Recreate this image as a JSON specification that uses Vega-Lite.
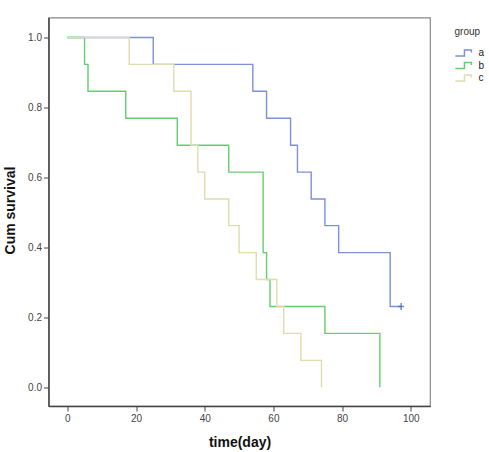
{
  "$schema": "https://vega.github.io/schema/vega-lite/v6.json",
  "autosize": "none",
  "width": 381.5,
  "height": 388.5,
  "padding": {"left": 48.5, "top": 17.5, "right": 59, "bottom": 46},
  "background": "white",
  "config": {
    "font": "Liberation Sans",
    "view": {"stroke": "#888888", "strokeWidth": 1.2},
    "axis": {
      "grid": false,
      "domainColor": "#444444",
      "domainWidth": 1.5,
      "tickColor": "#444444",
      "tickSize": 5,
      "tickWidth": 1,
      "labelFont": "Liberation Sans",
      "labelFontSize": 10,
      "labelColor": "#444444",
      "labelPadding": 2,
      "titleFont": "Liberation Sans",
      "titleFontSize": 14,
      "titleFontWeight": "bold",
      "titleColor": "#111111"
    }
  },
  "datasets": {
    "km": [
      {"group": "a", "time": 0, "surv": 1},
      {"group": "a", "time": 25, "surv": 0.923},
      {"group": "a", "time": 54, "surv": 0.846},
      {"group": "a", "time": 58, "surv": 0.769},
      {"group": "a", "time": 65, "surv": 0.692},
      {"group": "a", "time": 67, "surv": 0.615},
      {"group": "a", "time": 71, "surv": 0.538},
      {"group": "a", "time": 75, "surv": 0.462},
      {"group": "a", "time": 79, "surv": 0.385},
      {"group": "a", "time": 94, "surv": 0.231},
      {"group": "a", "time": 97.2, "surv": 0.231},
      {"group": "b", "time": 0, "surv": 1},
      {"group": "b", "time": 5, "surv": 0.923},
      {"group": "b", "time": 6, "surv": 0.846},
      {"group": "b", "time": 17, "surv": 0.769},
      {"group": "b", "time": 32, "surv": 0.692},
      {"group": "b", "time": 47, "surv": 0.615},
      {"group": "b", "time": 57, "surv": 0.385},
      {"group": "b", "time": 58, "surv": 0.308},
      {"group": "b", "time": 59, "surv": 0.231},
      {"group": "b", "time": 75, "surv": 0.154},
      {"group": "b", "time": 91, "surv": 0},
      {"group": "c", "time": 0, "surv": 1},
      {"group": "c", "time": 18, "surv": 0.923},
      {"group": "c", "time": 31, "surv": 0.846},
      {"group": "c", "time": 36, "surv": 0.692},
      {"group": "c", "time": 38, "surv": 0.615},
      {"group": "c", "time": 40, "surv": 0.538},
      {"group": "c", "time": 47, "surv": 0.462},
      {"group": "c", "time": 50, "surv": 0.385},
      {"group": "c", "time": 55, "surv": 0.308},
      {"group": "c", "time": 61, "surv": 0.231},
      {"group": "c", "time": 63, "surv": 0.154},
      {"group": "c", "time": 68, "surv": 0.077},
      {"group": "c", "time": 74, "surv": 0}
    ],
    "censored": [
      {"group": "a", "time": 97.2, "surv": 0.231}
    ]
  },
  "layer": [
    {
      "data": {"name": "km"},
      "mark": {"type": "line", "interpolate": "step-after", "strokeWidth": 1.4},
      "encoding": {
        "x": {
          "field": "time",
          "type": "quantitative",
          "scale": {"domain": [-5.5, 105.6], "nice": false, "zero": false},
          "axis": {
            "values": [0, 20, 40, 60, 80, 100],
            "title": "time(day)",
            "titleX": 191,
            "titleY": 36,
            "titleBaseline": "middle"
          }
        },
        "y": {
          "field": "surv",
          "type": "quantitative",
          "scale": {"domain": [-0.0535, 1.057], "nice": false, "zero": false},
          "axis": {
            "values": [0, 0.2, 0.4, 0.6, 0.8, 1.0],
            "format": ".1f",
            "title": "Cum survival",
            "titleX": -38,
            "titleY": 192.5,
            "titleBaseline": "middle",
            "titleAngle": -90
          }
        },
        "color": {
          "field": "group",
          "type": "nominal",
          "scale": {"domain": ["a", "b", "c"], "range": ["#7d90d8", "#62cf6e", "#e0dcae"]},
          "legend": {
            "orient": "none",
            "legendX": 406,
            "legendY": 9.5,
            "title": "group",
            "titleFontSize": 10,
            "titleFontWeight": "normal",
            "titleColor": "#333333",
            "titleFont": "Liberation Sans",
            "titlePadding": 11,
            "labelFontSize": 10,
            "labelColor": "#222222",
            "labelFont": "Liberation Sans",
            "labelOffset": 5,
            "symbolType": "M-1,0.35H0.05V-0.35H0.85V-0.05",
            "symbolSize": 300,
            "symbolStrokeWidth": 1.5,
            "clipHeight": 10,
            "rowPadding": 2.5
          }
        },
        "order": {"field": "time", "type": "quantitative"}
      }
    },
    {
      "data": {"name": "censored"},
      "mark": {"type": "tick", "orient": "vertical", "size": 7, "thickness": 1.5, "color": "#3f5cc4"},
      "encoding": {
        "x": {"field": "time", "type": "quantitative"},
        "y": {"field": "surv", "type": "quantitative"}
      }
    },
    {
      "data": {"name": "censored"},
      "mark": {"type": "tick", "orient": "horizontal", "size": 6, "thickness": 1.5, "color": "#3f5cc4"},
      "encoding": {
        "x": {"field": "time", "type": "quantitative"},
        "y": {"field": "surv", "type": "quantitative"}
      }
    }
  ]
}
